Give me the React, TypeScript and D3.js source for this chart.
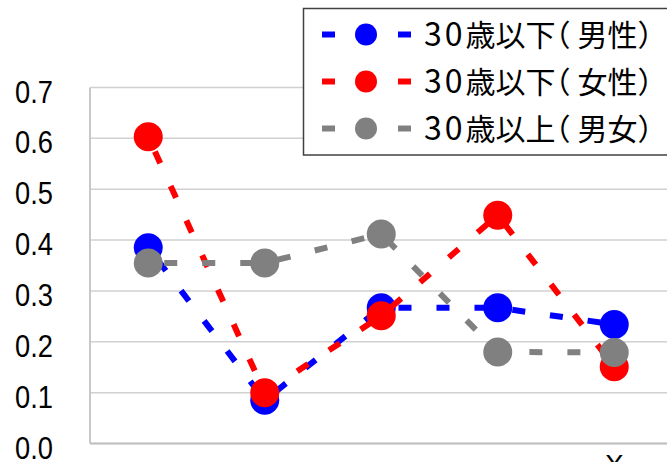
import React from "react";
import * as d3 from "d3";

const categories = ["1", "2", "3", "4", "5"];
const seriesNames = ["30歳以下（男性）", "30歳以下（女性）", "30歳以上（男女）"];
const maleUnder30 = [0.385, 0.085, 0.267, 0.267, 0.234];
const femaleUnder30 = [0.603, 0.1, 0.251, 0.449, 0.151];
const over30 = [0.355, 0.355, 0.412, 0.18, 0.179];
const yTicks = [0, 0.1, 0.2, 0.3, 0.4, 0.5, 0.6, 0.7];
const colors = ["#0000ff", "#ff0000", "#808080"];

const W = 667;
const H = 462;

export default function App() {
  const x = d3.scaleBand<string>().domain(categories).range([90, 672.5]);
  const y = d3.scaleLinear().domain([0, 0.7]).range([443.5, 87.5]);
  const series = [maleUnder30, femaleUnder30, over30];
  const line = d3
    .line<number>()
    .x((_, i) => (x(categories[i]) as number) + x.bandwidth() / 2)
    .y((d) => y(d));
  const fmt = d3.format(".1f");
  const jp = "'Noto Sans CJK JP', sans-serif";

  return (
    <svg
      width={W}
      height={H}
      style={{ position: "absolute", left: 0, top: 0, background: "#fff" }}
    >
      <rect x={0} y={0} width={W} height={H} fill="#fff" />
      {/* gridlines */}
      {yTicks.map((t) => (
        <line
          key={"g" + t}
          x1={90}
          x2={W}
          y1={y(t)}
          y2={y(t)}
          stroke="#d0d0d0"
          strokeWidth={1.5}
        />
      ))}
      <line x1={90} x2={90} y1={y(0.7)} y2={y(0)} stroke="#c8c8c8" strokeWidth={2} />
      <line x1={90} x2={W} y1={y(0)} y2={y(0)} stroke="#c0c0c0" strokeWidth={2} />
      {/* y labels */}
      {yTicks.map((t) => (
        <text
          key={"l" + t}
          transform={`translate(53,${y(t) + 15}) scale(0.88,1)`}
          textAnchor="end"
          fontFamily="'Liberation Sans', Arial, sans-serif"
          fontSize={31}
          fill="#000"
        >
          {fmt(t)}
        </text>
      ))}
      {/* partial category label */}
      <text
        x={(x(categories[4]) as number) + x.bandwidth() / 2}
        y={474}
        textAnchor="middle"
        fontFamily="'Liberation Sans', Arial, sans-serif"
        fontSize={28}
        fill="#000"
      >
        X
      </text>
      {/* series */}
      {series.map((s, si) => (
        <g key={"s" + si}>
          <path
            d={line(s) || ""}
            fill="none"
            stroke={colors[si]}
            strokeWidth={6}
            strokeDasharray="13 25"
            strokeDashoffset={-16}
          />
          {s.map((v, i) => (
            <circle
              key={i}
              cx={(x(categories[i]) as number) + x.bandwidth() / 2}
              cy={y(v)}
              r={14.5}
              fill={colors[si]}
            />
          ))}
        </g>
      ))}
      {/* legend */}
      <rect x={303.5} y={8.5} width={400} height={146.5} fill="#fff" stroke="#404040" strokeWidth={1.5} />
      {seriesNames.map((name, i) => {
        const cy = 34.5 + i * 47;
        return (
          <g key={"lg" + i}>
            <line x1={322} x2={335} y1={cy} y2={cy} stroke={colors[i]} strokeWidth={6} />
            <circle cx={366} cy={cy} r={11} fill={colors[i]} />
            <line x1={398} x2={411} y1={cy} y2={cy} stroke={colors[i]} strokeWidth={6} />
            <text x={424} y={cy + 11.5} fontFamily={jp} fontSize={30} fill="#000">
              <tspan fontSize={32} letterSpacing={3}>{name.slice(0, 2)}</tspan>
              <tspan>{name.slice(2, 5)}</tspan>
              <tspan dx={-15}>{name.slice(5, 6)}</tspan>
              <tspan dx={7}>{name.slice(6)}</tspan>
            </text>
          </g>
        );
      })}
    </svg>
  );
}
